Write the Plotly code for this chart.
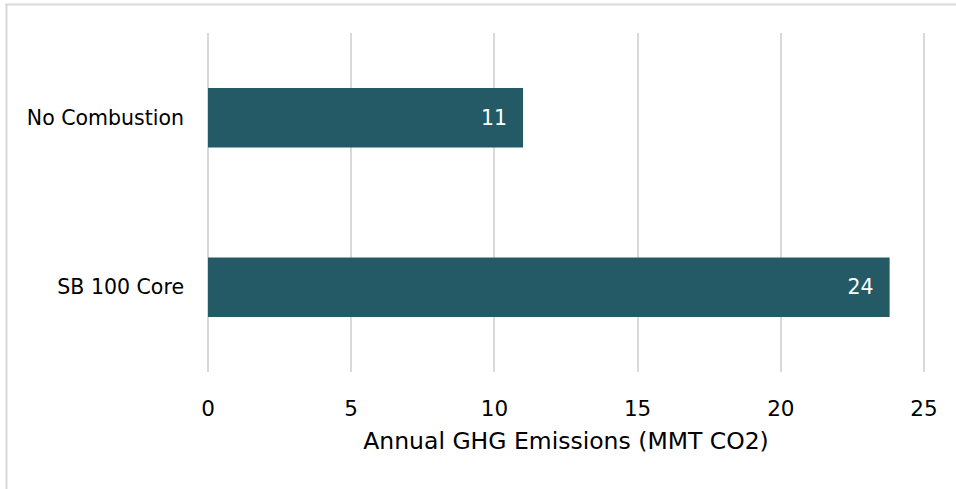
import plotly.graph_objects as go

# Scenario emissions
scenarios = ["SB 100 Core", "No Combustion"]
emissions = [23.8, 11.0]
x_ticks = [0, 5, 10, 15, 20, 25]

BAR_COLOR = "#235A66"
GRID_COLOR = "#D9D9D9"
FONT = "DejaVu Sans"
FS = 20.5

W, H = 956, 489
M_L, M_R, M_T, M_B = 206, 30, 33, 117
PW, PH = W - M_L - M_R, H - M_T - M_B
PAD = 0.07  # small range padding so the 0 and 25 gridlines are drawn

fig = go.Figure(
    go.Bar(
        y=scenarios,
        x=emissions,
        orientation="h",
        marker=dict(color=BAR_COLOR, line=dict(width=0)),
        width=0.35,
        texttemplate="%{x:.0f}\u00a0\u00a0",
        textposition="inside",
        insidetextanchor="end",
        textfont=dict(color="white", size=FS, family=FONT),
        hoverinfo="skip",
    )
)

# frame lines along top and left edges of the page
def px_to_paper_x(px):
    return (px - M_L) / PW

def px_to_paper_y(py):
    return (H - M_B - py) / PH

fig.add_shape(type="line", xref="paper", yref="paper",
              x0=px_to_paper_x(5), x1=px_to_paper_x(W), y0=px_to_paper_y(4.5), y1=px_to_paper_y(4.5),
              line=dict(color=GRID_COLOR, width=2))
fig.add_shape(type="line", xref="paper", yref="paper",
              x0=px_to_paper_x(6.5), x1=px_to_paper_x(6.5), y0=px_to_paper_y(4), y1=px_to_paper_y(H),
              line=dict(color=GRID_COLOR, width=2))

fig.update_layout(
    width=W,
    height=H,
    margin=dict(l=M_L, r=M_R, t=M_T, b=M_B),
    paper_bgcolor="white",
    plot_bgcolor="white",
    showlegend=False,
    font=dict(family=FONT, size=FS, color="black"),
    xaxis=dict(
        range=[-PAD, 25 + PAD],
        tickvals=x_ticks,
        showgrid=True,
        gridcolor=GRID_COLOR,
        gridwidth=2,
        zeroline=False,
        showline=False,
        ticks="",
        ticklabelstandoff=21,
        tickfont=dict(size=21.5),
        title=dict(text="Annual GHG Emissions (MMT CO2)", font=dict(size=23.5), standoff=13),
    ),
    yaxis=dict(
        range=[-0.5, 1.5],
        showgrid=False,
        zeroline=False,
        showline=False,
        ticks="",
        ticklabelstandoff=21,
        tickfont=dict(size=FS),
    ),
)

fig.write_html("out.html")
